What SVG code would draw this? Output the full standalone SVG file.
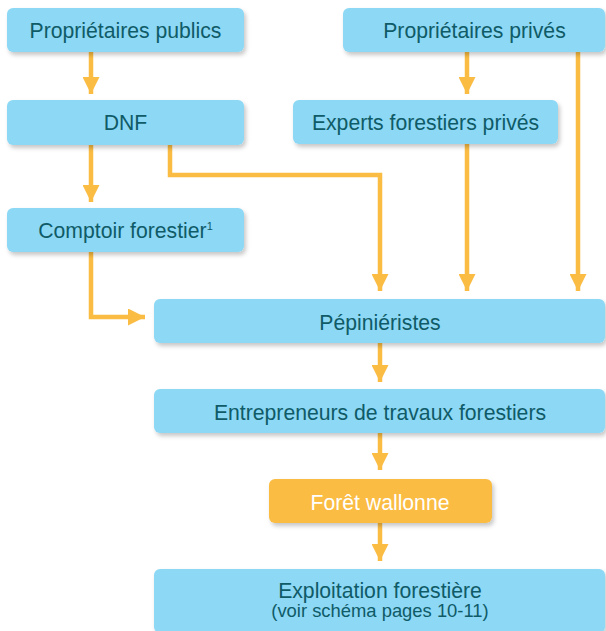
<svg xmlns="http://www.w3.org/2000/svg" width="606" height="631" viewBox="0 0 606 631">
<style>
.box{fill:#8DD8F5;filter:url(#sh)}
.org{fill:#FABC43;filter:url(#sh)}
.t{font-family:"Liberation Sans",Arial,sans-serif;font-size:21.2px;fill:#0F5B67;text-anchor:middle}
.w{fill:#FFFFFF}
.s{font-size:18.4px}
.c{fill:none;stroke:#FABC43;stroke-width:4.5}
</style>
<defs>
<filter id="sh" x="-10%" y="-30%" width="120%" height="170%">
<feDropShadow dx="2" dy="3" stdDeviation="2" flood-color="#000" flood-opacity="0.22"/>
</filter>
<marker id="ah" viewBox="0 0 10 10" refX="10" refY="5" markerWidth="17" markerHeight="17" markerUnits="userSpaceOnUse" orient="auto">
<path d="M0,0 L10,5 L0,10 Z" fill="#FABC43"/>
</marker>
</defs>
<g id="connectors">
<path class="c" d="M91,52 V94" marker-end="url(#ah)"/>
<path class="c" d="M467,52 V94" marker-end="url(#ah)"/>
<path class="c" d="M578,52 V291" marker-end="url(#ah)"/>
<path class="c" d="M91,145 V202" marker-end="url(#ah)"/>
<path class="c" d="M170,145 V175 H380 V291" marker-end="url(#ah)"/>
<path class="c" d="M467,144 V291" marker-end="url(#ah)"/>
<path class="c" d="M91,252 V317 H145" marker-end="url(#ah)"/>
<path class="c" d="M380,343 V382" marker-end="url(#ah)"/>
<path class="c" d="M380,433 V470" marker-end="url(#ah)"/>
<path class="c" d="M380,523 V561" marker-end="url(#ah)"/>
</g>
<g id="proprietaires-publics">
<rect class="box" x="7" y="8" width="237" height="44" rx="6"/>
<text class="t" x="125.5" y="38">Propriétaires publics</text>
</g>
<g id="proprietaires-prives">
<rect class="box" x="343" y="8" width="262" height="44" rx="6"/>
<text class="t" x="474.5" y="38">Propriétaires privés</text>
</g>
<g id="dnf">
<rect class="box" x="7" y="100" width="237" height="45" rx="6"/>
<text class="t" x="125.5" y="130">DNF</text>
</g>
<g id="experts">
<rect class="box" x="293" y="100" width="265" height="44" rx="6"/>
<text class="t" x="425.5" y="130">Experts forestiers privés</text>
</g>
<g id="comptoir">
<rect class="box" x="7" y="208" width="237" height="44" rx="6"/>
<text class="t" x="125.5" y="238">Comptoir forestier<tspan font-size="11" dy="-8">1</tspan></text>
</g>
<g id="pepinieristes">
<rect class="box" x="154" y="299" width="451" height="44" rx="6"/>
<text class="t" x="380" y="330">Pépiniéristes</text>
</g>
<g id="entrepreneurs">
<rect class="box" x="154" y="389" width="451" height="44" rx="6"/>
<text class="t" x="380" y="420">Entrepreneurs de travaux forestiers</text>
</g>
<g id="foret-wallonne">
<rect class="org" x="269" y="479" width="223" height="44" rx="6"/>
<text class="t w" x="380" y="510">Forêt wallonne</text>
</g>
<g id="exploitation">
<rect class="box" x="154" y="569" width="451" height="64" rx="6"/>
<text class="t" x="380" y="598">Exploitation forestière</text>
<text class="t s" x="380" y="617">(voir schéma pages 10-11)</text>
</g>
</svg>
